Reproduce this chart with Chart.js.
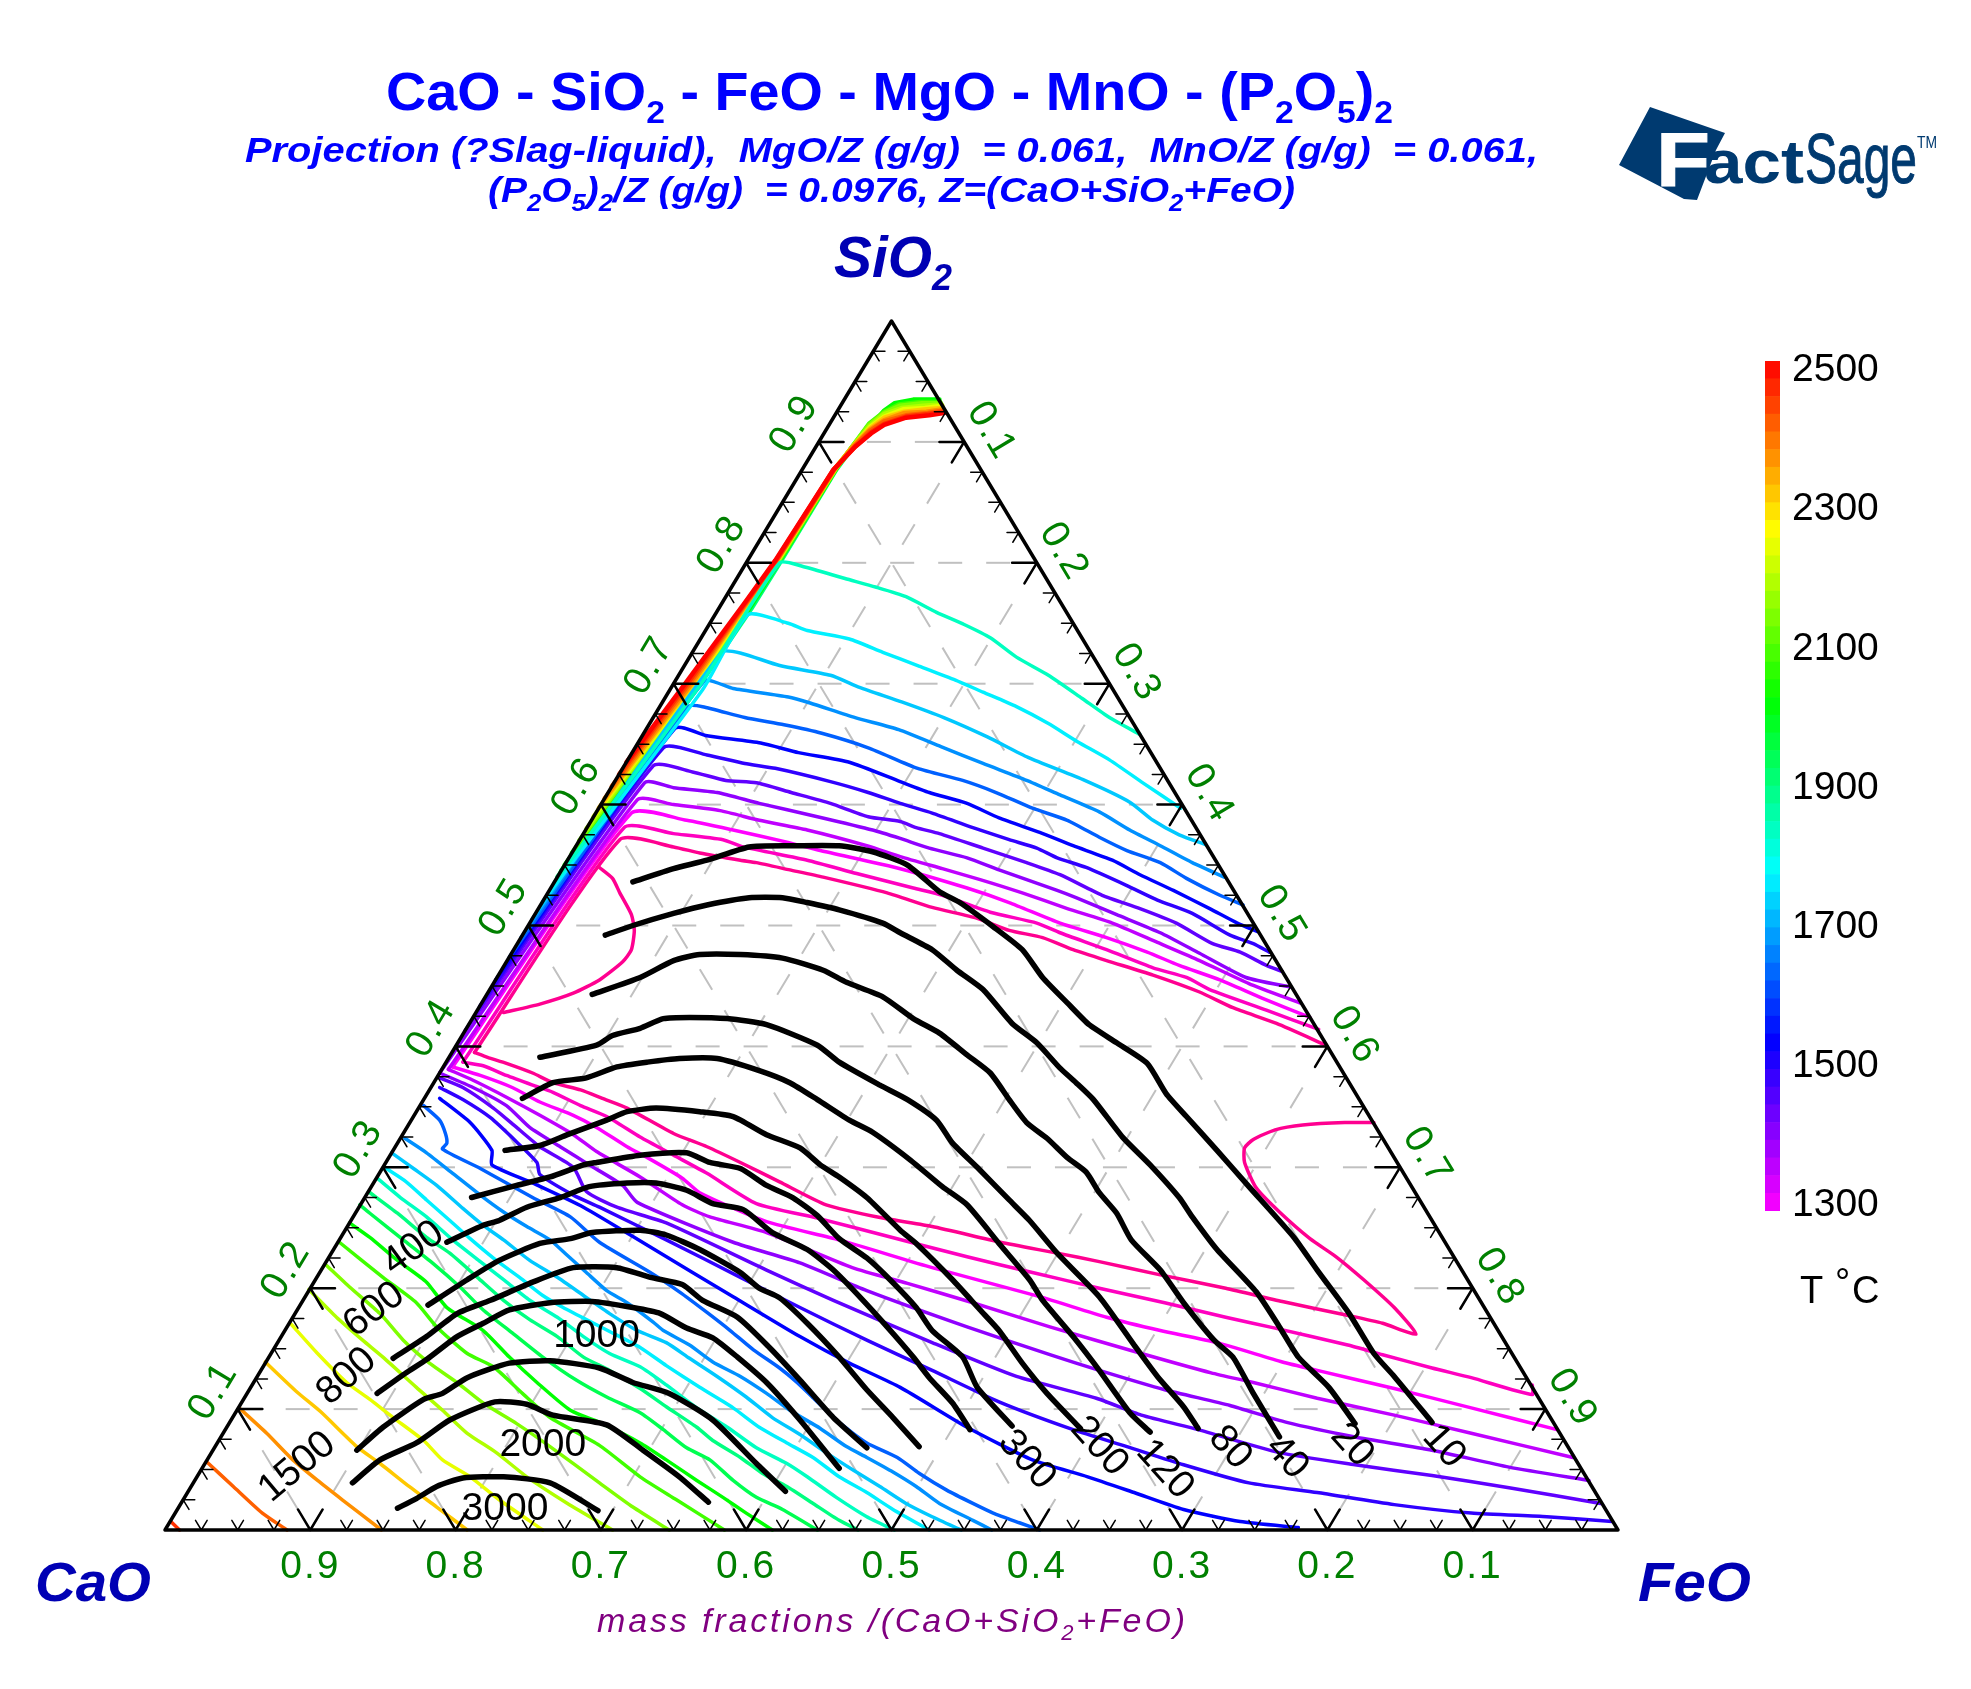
<!DOCTYPE html>
<html>
<head>
<meta charset="utf-8">
<title>CaO - SiO2 - FeO - MgO - MnO - (P2O5)2</title>
<script src="https://cdn.jsdelivr.net/npm/chart.js@4"></script>
<style>
  html, body { margin: 0; padding: 0; background: #fff; }
  #page { position: relative; width: 1971px; height: 1689px; overflow: hidden; }
  #ternary { position: absolute; left: 0; top: 0; }
  #scale { position: absolute; left: 1765px; top: 340px; }
  #texts { position: absolute; left: 0; top: 0; font-family: "Liberation Sans", Arial, sans-serif; }
</style>
</head>
<body>
<div id="page">
  <canvas id="ternary" width="1971" height="1689"></canvas>
  <canvas id="scale" width="206" height="900"></canvas>
  <svg id="texts" width="1971" height="1689" xmlns="http://www.w3.org/2000/svg">
    <text x="386" y="110" font-size="53" font-weight="bold" fill="#0000ff" textLength="1007" lengthAdjust="spacingAndGlyphs">CaO - SiO<tspan dy="13" font-size="32">2</tspan><tspan dy="-13"> - FeO - MgO - MnO - (P</tspan><tspan dy="13" font-size="32">2</tspan><tspan dy="-13">O</tspan><tspan dy="13" font-size="32">5</tspan><tspan dy="-13">)</tspan><tspan dy="13" font-size="32">2</tspan></text>
    <text x="245" y="162" font-size="35" font-weight="bold" font-style="italic" fill="#0000ff" textLength="1293" lengthAdjust="spacingAndGlyphs">Projection (?Slag-liquid),&#160; MgO/Z (g/g)&#160; = 0.061,&#160; MnO/Z (g/g)&#160; = 0.061,</text>
    <text x="488" y="202" font-size="35" font-weight="bold" font-style="italic" fill="#0000ff" textLength="807" lengthAdjust="spacingAndGlyphs">(P<tspan dy="9" font-size="23">2</tspan><tspan dy="-9">O</tspan><tspan dy="9" font-size="23">5</tspan><tspan dy="-9">)</tspan><tspan dy="9" font-size="23">2</tspan><tspan dy="-9">/Z (g/g)&#160; = 0.0976, Z=(CaO+SiO</tspan><tspan dy="9" font-size="23">2</tspan><tspan dy="-9">+FeO)</tspan></text>
    <text x="834" y="277" font-size="57" font-weight="bold" font-style="italic" fill="#0000b4" textLength="118" lengthAdjust="spacingAndGlyphs">SiO<tspan dy="13" font-size="36">2</tspan></text>
    <text x="35" y="1601" font-size="56" font-weight="bold" font-style="italic" fill="#0000b4" textLength="116" lengthAdjust="spacingAndGlyphs">CaO</text>
    <text x="1638" y="1601" font-size="56" font-weight="bold" font-style="italic" fill="#0000b4" textLength="113" lengthAdjust="spacingAndGlyphs">FeO</text>
    <text x="597" y="1632" font-size="34" font-style="italic" fill="#800080" textLength="588" lengthAdjust="spacing">mass fractions /(CaO+SiO<tspan dy="8" font-size="22">2</tspan><tspan dy="-8">+FeO)</tspan></text>
    <text y="1303" font-size="38" fill="#000"><tspan x="1800">T</tspan><tspan x="1835" dy="-8">°</tspan><tspan x="1852" dy="8">C</tspan></text>
    <!-- logo -->
    <polygon points="1650,107 1725,133 1716,150 1697,200 1684,199 1619,165" fill="#003a70"/>
    <text x="1656" y="186" font-size="76" font-weight="bold" fill="#fff" stroke="#fff" stroke-width="1" textLength="54" lengthAdjust="spacingAndGlyphs">F</text>
    <text x="1704" y="183" font-size="62" font-weight="bold" fill="#003a70" textLength="100" lengthAdjust="spacingAndGlyphs">act</text>
    <text x="1805" y="183" font-size="71" fill="#003a70" stroke="#003a70" stroke-width="1" textLength="112" lengthAdjust="spacingAndGlyphs">Sage</text>
    <text x="1917" y="148" font-size="17" fill="#003a70" textLength="20" lengthAdjust="spacingAndGlyphs">TM</text>
  </svg>
</div>
<script>
// every point is [x, SiO2] where x = FeO + SiO2/2 (position along the CaO-FeO base)

// isotherms, upper side of the two-liquid band, from the band out to the FeO-SiO2 edge
const up1800 = [[.2675,.535],[.369,.700],[.423,.800],[.439,.797],[.468,.787],[.489,.780],[.510,.772],[.531,.759],[.550,.749],[.568,.738],[.586,.722],[.608,.707],[.631,.688],[.650,.672],[.671,.658]];
const up1750 = [[.260,.520],[.370,.695],[.401,.757],[.429,.750],[.442,.744],[.471,.737],[.494,.726],[.518,.715],[.544,.703],[.563,.693],[.586,.681],[.608,.667],[.628,.652],[.650,.637],[.673,.618],[.699,.597]];
const up1700 = [[.2525,.505],[.383,.726],[.397,.725],[.423,.715],[.458,.707],[.478,.697],[.507,.685],[.536,.672],[.566,.656],[.594,.639],[.633,.620],[.664,.602],[.680,.587],[.698,.575],[.716,.567]];
const up1650 = [[.245,.490],[.371,.702],[.391,.696],[.429,.689],[.444,.684],[.475,.672],[.505,.662],[.534,.648],[.563,.634],[.593,.620],[.616,.608],[.643,.594],[.664,.579],[.685,.566],[.707,.552],[.729,.540]];
const up1600 = [[.237,.474],[.360,.681],[.370,.681],[.399,.672],[.426,.666],[.452,.659],[.484,.647],[.518,.630],[.549,.620],[.572,.610],[.597,.597],[.621,.587],[.643,.573],[.662,.562],[.685,.552],[.703,.539],[.726,.525],[.742,.517]];
const up1550 = [[.2275,.455],[.351,.663],[.373,.657],[.410,.651],[.436,.643],[.471,.635],[.506,.619],[.526,.610],[.552,.601],[.574,.589],[.602,.577],[.625,.566],[.652,.554],[.671,.542],[.694,.529],[.719,.514],[.738,.502],[.752,.495]];
const up1500 = [[.2165,.433],[.343,.647],[.373,.641],[.399,.634],[.420,.630],[.458,.619],[.484,.610],[.506,.601],[.528,.593],[.556,.581],[.581,.571],[.600,.564],[.614,.556],[.634,.548],[.662,.533],[.683,.521],[.707,.510],[.733,.492],[.749,.485],[.760,.478]];
const up1450 = [[.2065,.413],[.336,.632],[.363,.627],[.386,.620],[.407,.618],[.431,.610],[.458,.601],[.484,.590],[.506,.586],[.517,.581],[.533,.576],[.563,.564],[.593,.552],[.616,.542],[.645,.525],[.671,.514],[.696,.502],[.721,.485],[.740,.478],[.758,.467],[.769,.462]];
const up1400 = [[.189,.378],[.330,.618],[.350,.614],[.380,.610],[.409,.601],[.449,.590],[.487,.579],[.506,.572],[.526,.564],[.552,.556],[.574,.546],[.614,.529],[.627,.523],[.655,.509],[.685,.494],[.712,.477],[.744,.457],[.775,.449]];
const up1350 = [[.195,.381],[.325,.604],[.350,.600],[.382,.595],[.409,.587],[.442,.579],[.483,.566],[.506,.557],[.535,.547],[.561,.538],[.590,.527],[.621,.514],[.652,.502],[.683,.486],[.712,.471],[.746,.452],[.781,.436]];
const up1300 = [[.198,.383],[.321,.593],[.359,.587],[.391,.579],[.428,.569],[.451,.562],[.506,.547],[.552,.531],[.581,.519],[.616,.502],[.648,.490],[.676,.478],[.698,.467],[.726,.455],[.755,.440],[.788,.424]];
const up1250 = [[.205,.387],[.316,.581],[.350,.576],[.384,.571],[.398,.565],[.442,.554],[.476,.543],[.515,.531],[.535,.525],[.568,.511],[.600,.502],[.616,.494],[.648,.480],[.680,.465],[.703,.457],[.719,.447],[.758,.430],[.794,.414]];
const up1200 = [[.213,.395],[.313,.571],[.350,.565],[.368,.560],[.396,.554],[.407,.552],[.430,.546],[.453,.540],[.497,.527],[.528,.515],[.559,.506],[.581,.496],[.604,.490],[.625,.480],[.648,.471],[.680,.459],[.712,.445],[.735,.432],[.765,.419],[.799,.401]];
const arc1200 = [[.299,.548],[.308,.539],[.313,.527],[.321,.509],[.323,.496],[.321,.480],[.315,.470],[.299,.455],[.281,.444],[.258,.435],[.233,.428]];

// the hot isotherms: cap below the SiO2 corner, then down the CaO-SiO2 edge
const band2400 = [[.537,.924],[.526,.922],[.510,.920],[.495,.914],[.486,.907],[.475,.896],[.460,.877],[.420,.802],[.399,.767],[.358,.700],[.3175,.635]];
const band2350 = [[.5365,.925],[.525,.923],[.510,.921],[.495,.915],[.486,.908],[.475,.896],[.460,.877],[.4205,.802],[.3995,.767],[.3595,.700],[.3125,.625]];
const band2300 = [[.536,.926],[.525,.924],[.510,.922],[.495,.917],[.485,.909],[.475,.897],[.4605,.877],[.421,.802],[.400,.767],[.361,.700],[.3075,.615]];
const band2250 = [[.5355,.927],[.524,.925],[.509,.924],[.495,.918],[.485,.910],[.474,.897],[.4605,.877],[.421,.802],[.400,.766],[.3625,.700],[.3025,.605]];
const band2200 = [[.535,.928],[.524,.927],[.509,.925],[.495,.920],[.485,.911],[.474,.897],[.461,.877],[.4215,.802],[.4005,.766],[.3635,.700],[.2985,.597]];
const band2150 = [[.535,.930],[.523,.928],[.508,.927],[.495,.921],[.485,.912],[.474,.897],[.461,.878],[.422,.802],[.4005,.765],[.3645,.700],[.295,.590]];
const band2100 = [[.5345,.931],[.522,.930],[.507,.928],[.495,.923],[.485,.913],[.474,.897],[.4615,.878],[.4215,.802],[.401,.765],[.365,.700],[.290,.580]];
const band2050 = [[.534,.932],[.521,.932],[.506,.930],[.495,.924],[.4845,.914],[.4735,.897],[.4615,.878],[.4225,.802],[.4015,.765],[.3655,.700],[.285,.570]];
const band2000 = [[.5335,.933],[.520,.933],[.505,.931],[.495,.925],[.4845,.915],[.4735,.897],[.462,.878],[.423,.802],[.402,.764],[.366,.700],[.280,.560]];
const band1950 = [[.533,.935],[.515,.935],[.502,.932],[.495,.926],[.488,.916],[.473,.896],[.462,.878],[.4232,.802],[.4025,.763],[.3665,.700],[.275,.550]];
const band1900 = [[.497,.925],[.488,.916],[.473,.896],[.462,.878],[.4235,.802],[.403,.763],[.3675,.700],[.2725,.545]];
const band1850 = [[.488,.913],[.473,.895],[.462,.877],[.4237,.801],[.4035,.762],[.3685,.700],[.270,.540]];

// isotherms, lower side, from the CaO-SiO2 edge out to the FeO edge or the base
const low1200 = [[.213,.395],[.222,.391],[.235,.386],[.253,.378],[.267,.370],[.286,.364],[.301,.357],[.318,.349],[.350,.328],[.373,.317],[.396,.304],[.423,.288],[.455,.269],[.494,.258],[.528,.251],[.575,.238],[.614,.229],[.643,.222],[.685,.211],[.730,.200],[.769,.189],[.812,.178],[.838,.171],[.861,.162],[.846,.184],[.825,.207],[.806,.226],[.788,.241],[.767,.263],[.751,.283],[.743,.304],[.743,.316],[.749,.323],[.764,.331],[.783,.335],[.812,.337],[.832,.337]];
const low1250 = [[.205,.387],[.219,.384],[.235,.376],[.253,.368],[.267,.362],[.286,.351],[.304,.342],[.327,.325],[.350,.310],[.373,.295],[.407,.270],[.449,.258],[.494,.244],[.552,.226],[.597,.213],[.643,.200],[.688,.188],[.730,.176],[.764,.167],[.814,.153],[.838,.145],[.872,.134],[.899,.126],[.941,.112],[.941,.120]];
const low1300 = [[.198,.383],[.217,.376],[.239,.366],[.258,.354],[.281,.343],[.297,.333],[.318,.317],[.332,.308],[.356,.291],[.368,.279],[.414,.255],[.464,.240],[.528,.217],[.602,.193],[.648,.176],[.685,.165],[.724,.155],[.769,.139],[.793,.132],[.846,.117],[.899,.101],[.958,.083]];
const low1350 = [[.195,.381],[.212,.372],[.235,.358],[.258,.343],[.281,.327],[.297,.313],[.327,.292],[.356,.269],[.375,.259],[.414,.246],[.473,.217],[.511,.204],[.556,.188],[.609,.168],[.672,.146],[.720,.130],[.749,.122],[.793,.109],[.846,.095],[.899,.080],[.969,.060]];
const low1400 = [[.189,.378],[.212,.366],[.235,.351],[.251,.333],[.272,.317],[.292,.302],[.315,.285],[.325,.271],[.391,.238],[.437,.221],[.483,.198],[.552,.168],[.609,.145],[.643,.132],[.688,.116],[.733,.103],[.772,.089],[.819,.077],[.872,.066],[.925,.052],[.980,.041]];
const low1450 = [[.189,.374],[.205,.366],[.226,.349],[.242,.333],[.258,.317],[.281,.300],[.290,.280],[.311,.267],[.345,.254],[.414,.215],[.460,.190],[.528,.155],[.586,.127],[.641,.109],[.672,.095],[.711,.083],[.767,.064],[.819,.054],[.872,.045],[.925,.035],[.988,.022]];
const low1500 = [[.189,.366],[.205,.356],[.224,.341],[.242,.321],[.256,.304],[.258,.294],[.281,.277],[.299,.267],[.345,.240],[.396,.209],[.437,.184],[.483,.157],[.528,.132],[.574,.106],[.625,.083],[.662,.069],[.701,.054],[.746,.039],[.793,.031],[.846,.021],[.899,.014],[.951,.011],[.996,.007]];
const low1550 = [[.189,.357],[.210,.337],[.225,.314],[.225,.302],[.253,.287],[.288,.267],[.334,.234],[.391,.193],[.437,.160],[.471,.138],[.506,.118],[.552,.085],[.597,.058],[.635,.044],[.667,.031],[.701,.017],[.740,.007],[.780,.002]];
const low1600 = [[.178,.351],[.189,.339],[.193,.328],[.194,.320],[.191,.315],[.217,.299],[.253,.275],[.279,.259],[.299,.238],[.334,.213],[.354,.197],[.373,.180],[.389,.165],[.405,.149],[.423,.134],[.435,.122],[.464,.089],[.483,.072],[.504,.060],[.519,.047],[.538,.033],[.556,.022],[.570,.014],[.588,.006],[.602,.000]];
const low1650 = [[.165,.324],[.180,.312],[.198,.295],[.217,.277],[.233,.263],[.249,.251],[.265,.240],[.277,.227],[.290,.213],[.304,.198],[.318,.188],[.336,.172],[.343,.165],[.361,.153],[.377,.139],[.396,.127],[.414,.113],[.430,.099],[.451,.084],[.469,.069],[.483,.060],[.501,.048],[.517,.036],[.533,.022],[.556,.008],[.569,.000]];
const low1700 = [[.156,.312],[.171,.299],[.187,.285],[.205,.266],[.219,.252],[.233,.240],[.251,.223],[.270,.209],[.288,.194],[.306,.179],[.325,.165],[.345,.155],[.361,.142],[.380,.127],[.400,.110],[.418,.093],[.437,.079],[.455,.064],[.473,.050],[.492,.036],[.510,.022],[.528,.011],[.548,.000]];
const low1750 = [[.151,.300],[.166,.288],[.180,.273],[.196,.256],[.210,.241],[.228,.223],[.244,.209],[.260,.194],[.274,.184],[.290,.174],[.308,.163],[.327,.151],[.345,.136],[.368,.118],[.391,.101],[.409,.085],[.428,.072],[.446,.060],[.464,.044],[.483,.031],[.501,.017],[.526,.000]];
const low1800 = [[.146,.291],[.162,.275],[.180,.259],[.198,.240],[.217,.222],[.233,.207],[.251,.190],[.270,.176],[.288,.160],[.306,.146],[.327,.135],[.345,.120],[.366,.101],[.387,.085],[.407,.068],[.428,.055],[.442,.044],[.462,.027],[.483,.011],[.502,.000]];
const low1850 = [[.140,.280],[.160,.262],[.180,.242],[.196,.229],[.215,.209],[.233,.190],[.251,.174],[.270,.160],[.288,.143],[.306,.132],[.327,.117],[.345,.102],[.366,.085],[.377,.074],[.396,.060],[.411,.047],[.428,.036],[.446,.022],[.464,.008],[.477,.000]];
const low1900 = [[.134,.269],[.141,.262],[.164,.240],[.184,.221],[.203,.201],[.219,.182],[.239,.163],[.260,.143],[.283,.124],[.304,.110],[.327,.097],[.343,.083],[.359,.068],[.375,.058],[.391,.041],[.407,.027],[.425,.017],[.449,.000]];
const low1950 = [[.127,.254],[.141,.242],[.160,.223],[.180,.205],[.194,.184],[.219,.165],[.237,.143],[.256,.122],[.279,.099],[.301,.088],[.327,.072],[.345,.058],[.366,.041],[.384,.027],[.400,.014],[.418,.000]];
const low2000 = [[.120,.238],[.150,.209],[.173,.188],[.187,.168],[.208,.146],[.226,.135],[.246,.113],[.265,.093],[.299,.070],[.327,.044],[.352,.025],[.385,.000]];
const low2050 = [[.111,.219],[.127,.201],[.148,.179],[.164,.157],[.182,.138],[.201,.122],[.219,.105],[.242,.088],[.265,.069],[.299,.039],[.322,.019],[.347,.000]];
const low2100 = [[.099,.199],[.118,.176],[.136,.157],[.150,.143],[.173,.118],[.191,.099],[.208,.080],[.228,.064],[.249,.044],[.277,.022],[.308,.000]];
const low2150 = [[.087,.170],[.105,.146],[.125,.122],[.141,.108],[.157,.093],[.178,.074],[.191,.058],[.210,.044],[.230,.025],[.260,.000]];
const low2200 = [[.069,.139],[.091,.114],[.107,.098],[.132,.069],[.148,.055],[.168,.036],[.187,.019],[.208,.000]];
const low2250 = [[.051,.101],[.070,.080],[.088,.058],[.105,.041],[.122,.025],[.149,.000]];
const low2300 = [[.029,.056],[.047,.036],[.067,.014],[.084,.000]];
const low2350 = [[.004,.007],[.010,.000]];

// iso-viscosity lines (black)
const visc10 = [[.322,.536],[.350,.547],[.373,.554],[.402,.565],[.430,.566],[.464,.566],[.487,.561],[.511,.550],[.533,.528],[.547,.519],[.570,.499],[.590,.480],[.604,.457],[.621,.436],[.636,.418],[.655,.403],[.676,.386],[.689,.361],[.703,.342],[.724,.314],[.746,.284],[.777,.242],[.793,.215],[.815,.179],[.832,.146],[.846,.127],[.872,.089]];
const visc20 = [[.303,.492],[.322,.500],[.350,.510],[.373,.517],[.402,.523],[.425,.523],[.442,.519],[.464,.513],[.494,.502],[.506,.494],[.528,.480],[.545,.463],[.563,.447],[.583,.419],[.600,.403],[.616,.382],[.627,.370],[.639,.356],[.659,.325],[.678,.302],[.698,.275],[.707,.259],[.724,.232],[.751,.197],[.767,.168],[.780,.143],[.801,.118],[.819,.088]];
const visc40 = [[.294,.443],[.327,.457],[.350,.471],[.368,.476],[.396,.476],[.425,.473],[.453,.463],[.469,.453],[.494,.441],[.515,.423],[.533,.411],[.552,.393],[.568,.378],[.581,.356],[.593,.337],[.607,.324],[.621,.308],[.634,.296],[.643,.279],[.655,.262],[.665,.240],[.685,.215],[.701,.188],[.722,.157],[.735,.143],[.749,.113],[.767,.077]];
const visc80 = [[.258,.391],[.297,.401],[.308,.409],[.327,.415],[.343,.423],[.361,.424],[.387,.423],[.414,.418],[.449,.401],[.464,.387],[.492,.368],[.511,.356],[.531,.339],[.542,.320],[.559,.300],[.581,.273],[.595,.256],[.614,.229],[.643,.193],[.667,.153],[.683,.127],[.701,.102],[.711,.084]];
const visc120 = [[.246,.357],[.267,.370],[.290,.374],[.311,.383],[.332,.387],[.354,.390],[.380,.390],[.409,.380],[.430,.370],[.449,.356],[.471,.339],[.487,.329],[.513,.306],[.535,.284],[.552,.269],[.574,.237],[.595,.207],[.604,.190],[.625,.160],[.643,.132],[.664,.097],[.678,.081]];
const visc200 = [[.234,.314],[.258,.318],[.277,.327],[.304,.339],[.318,.346],[.338,.349],[.368,.346],[.391,.342],[.414,.327],[.437,.316],[.451,.302],[.464,.292],[.483,.275],[.506,.248],[.517,.237],[.542,.207],[.561,.182],[.574,.165],[.590,.138],[.607,.113],[.630,.084]];
const visc300 = [[.211,.275],[.242,.285],[.265,.292],[.288,.302],[.297,.304],[.327,.310],[.359,.312],[.375,.304],[.396,.299],[.414,.285],[.432,.275],[.449,.260],[.464,.241],[.483,.225],[.499,.207],[.517,.184],[.528,.165],[.549,.143],[.559,.118],[.583,.086]];
const visc400 = [[.194,.238],[.219,.252],[.230,.256],[.249,.267],[.272,.275],[.292,.284],[.318,.287],[.338,.287],[.359,.281],[.377,.270],[.398,.265],[.418,.246],[.442,.232],[.460,.215],[.478,.193],[.497,.168],[.515,.143],[.526,.126],[.542,.105],[.554,.083]];
const visc600 = [[.181,.186],[.208,.207],[.230,.223],[.258,.237],[.279,.241],[.294,.246],[.327,.248],[.345,.244],[.368,.232],[.396,.213],[.409,.200],[.423,.192],[.442,.171],[.464,.143],[.483,.116],[.501,.093],[.519,.069]];
const visc800 = [[.157,.142],[.180,.160],[.201,.179],[.224,.190],[.253,.205],[.281,.217],[.311,.217],[.334,.209],[.356,.203],[.370,.190],[.394,.176],[.416,.151],[.437,.124],[.460,.093],[.483,.068]];
const visc1000 = [[.146,.113],[.166,.130],[.180,.141],[.201,.160],[.219,.171],[.237,.182],[.265,.188],[.294,.189],[.322,.184],[.341,.179],[.359,.167],[.377,.159],[.394,.143],[.414,.122],[.437,.091],[.464,.051]];
const visc1500 = [[.132,.066],[.150,.085],[.178,.108],[.191,.113],[.208,.126],[.237,.138],[.265,.140],[.299,.134],[.322,.122],[.347,.113],[.377,.091],[.407,.055],[.427,.032]];
const visc2000 = [[.129,.039],[.148,.058],[.173,.072],[.196,.091],[.227,.106],[.249,.104],[.267,.095],[.304,.087],[.329,.066],[.354,.044],[.374,.023]];
const visc3000 = [[.160,.018],[.173,.026],[.187,.036],[.205,.043],[.233,.044],[.265,.039],[.298,.016]];

const viscLabels = ['400','600','800','1500','1000','2000','3000','300','200','120','80','40','20','10'];
const viscLabelX = [.171,.144,.125,.091,.297,.260,.234,.593,.643,.688,.733,.772,.817,.880];
const viscLabelY = [.233,.182,.127,.052,.160,.070,.017,.058,.069,.050,.068,.060,.070,.069];
const viscLabelAngle = [-36,-37,-42,-40,0,0,0,48,48,48,48,48,48,48];

const gridValues = [.1,.2,.3,.4,.5,.6,.7,.8,.9];
const minorTicks = [.025,.05,.075,.125,.15,.175,.225,.25,.275,.325,.35,.375,.425,.45,.475,.525,.55,.575,.625,.65,.675,.725,.75,.775,.825,.85,.875,.925,.95,.975];
const scaleTicks = [1300,1500,1700,1900,2100,2300,2500];

function pt(feo, sio2) { return { x: feo + sio2 / 2, y: sio2 }; }

function lineSet(points, color, width, order, dash, tension) {
  return {
    data: points,
    borderColor: color,
    borderWidth: width,
    borderDash: dash || [],
    borderJoinStyle: 'round',
    borderCapStyle: dash ? 'butt' : 'round',
    pointRadius: 0,
    showLine: true,
    fill: false,
    tension: tension || 0,
    order: order
  };
}

const pairs = a => a.map(p => ({ x: p[0], y: p[1] }));
const datasets = [];

// dashed grid
gridValues.forEach(v => {
  datasets.push(lineSet([pt(0, v), pt(1 - v, v)], '#c0c0c0', 2, 9, [24, 24]));
  datasets.push(lineSet([pt(v, 1 - v), pt(v, 0)], '#c0c0c0', 2, 9, [24, 24]));
  datasets.push(lineSet([pt(0, 1 - v), pt(1 - v, 0)], '#c0c0c0', 2, 9, [24, 24]));
});

// ticks on the three edges, two short arms pointing inwards
function tickArms(list, t) {
  const out = [];
  const gap = { x: NaN, y: NaN };
  list.forEach(v => {
    out.push(pt(0, v), pt(t, v), gap, pt(0, v), pt(t, v - t), gap);
    out.push(pt(1 - v, v), pt(1 - v - t, v), gap, pt(1 - v, v), pt(1 - v, v - t), gap);
    out.push(pt(v, 0), pt(v, t), gap, pt(v, 0), pt(v - t, t), gap);
  });
  return out;
}
datasets.push(lineSet(tickArms(minorTicks, .008), '#000', 1.5, 2));
datasets.push(lineSet(tickArms(gridValues, .017), '#000', 2.5, 2));

const coloured = [
  [up1800,'#00ffc0'],[up1750,'#00f0ff'],[up1700,'#00c8ff'],[up1650,'#0090ff'],[up1600,'#0060ff'],[up1550,'#0000ff'],[up1500,'#3000ff'],
  [up1450,'#6000ff'],[up1400,'#9000ff'],[up1350,'#c000ff'],[up1300,'#ff00ff'],[up1250,'#ff00c0'],[up1200,'#ff0090'],[arc1200,'#ff0090'],
  [low1200,'#ff0090'],[low1250,'#ff00c0'],[low1300,'#ff00ff'],[low1350,'#c000ff'],[low1400,'#9000ff'],[low1450,'#6000ff'],[low1500,'#3000ff'],
  [low1550,'#0000ff'],[low1600,'#0060ff'],[low1650,'#0090ff'],[low1700,'#00c8ff'],[low1750,'#00f0ff'],[low1800,'#00ffc0'],[low1850,'#00ff80'],
  [low1900,'#00ff50'],[low1950,'#00ff00'],[low2000,'#40ff00'],[low2050,'#80ff00'],[low2100,'#b0ff00'],[low2150,'#e8ff00'],[low2200,'#ffc800'],
  [low2250,'#ff9000'],[low2300,'#ff6000'],[low2350,'#ff3000']
];
coloured.forEach(c => datasets.push(lineSet(pairs(c[0]), c[1], 3.5, 5, null, .2)));

// the band is solid colour in the picture, so these lines are wider
const bandLines = [
  [band2400,'#ff0000'],[band2350,'#ff3000'],[band2300,'#ff6000'],[band2250,'#ff9000'],[band2200,'#ffc800'],[band2150,'#e8ff00'],
  [band2100,'#b0ff00'],[band2050,'#80ff00'],[band2000,'#40ff00'],[band1950,'#00ff00'],[band1900,'#00ff50'],[band1850,'#00ff80']
];
bandLines.forEach(c => datasets.push(lineSet(pairs(c[0]), c[1], 4.5, 5)));

[visc10,visc20,visc40,visc80,visc120,visc200,visc300,visc400,visc600,visc800,visc1000,visc1500,visc2000,visc3000]
  .forEach(v => datasets.push(lineSet(pairs(v), '#000', 5.5, 3, null, .2)));

// triangle frame
datasets.push(lineSet([pt(0, 0), pt(1, 0), pt(0, 1), pt(0, 0)], '#000', 3.5, 1));

const textPlugin = {
  id: 'ternaryText',
  afterDatasetsDraw(chart) {
    const ctx = chart.ctx, sx = chart.scales.x, sy = chart.scales.y;
    function put(text, x, y, angle) {
      ctx.save();
      ctx.translate(x, y);
      ctx.rotate(angle * Math.PI / 180);
      ctx.textAlign = 'center';
      ctx.textBaseline = 'middle';
      ctx.fillText(text, 0, 0);
      ctx.restore();
    }
    ctx.save();
    ctx.fillStyle = '#008000';
    ctx.font = '39px "Liberation Sans", Arial, sans-serif';
    ctx.letterSpacing = '2px';
    gridValues.forEach(v => {
      put(v.toFixed(1), sx.getPixelForValue(v / 2) - 24, sy.getPixelForValue(v) - 18, -59);
      put((1 - v).toFixed(1), sx.getPixelForValue(1 - v / 2) + 27, sy.getPixelForValue(v) - 11, 59);
      put(v.toFixed(1), sx.getPixelForValue(1 - v), sy.getPixelForValue(0) + 37, 0);
    });
    ctx.fillStyle = '#000';
    ctx.letterSpacing = '0px';
    viscLabels.forEach((t, i) => {
      put(t, sx.getPixelForValue(viscLabelX[i]), sy.getPixelForValue(viscLabelY[i]), viscLabelAngle[i]);
    });
    ctx.restore();
  }
};

new Chart(document.getElementById('ternary'), {
  type: 'scatter',
  data: { datasets: datasets },
  options: {
    responsive: false,
    animation: false,
    events: [],
    layout: { padding: 0 },
    plugins: { legend: { display: false }, tooltip: { enabled: false } },
    scales: {
      // 1 unit of x is the 1453 px base, 1 unit of y the 1209 px height
      x: { type: 'linear', display: false, min: -0.11356, max: 1.24295 },
      y: { type: 'linear', display: false, min: -0.13151, max: 1.26551 }
    }
  },
  plugins: [textPlugin]
});

// colour bar: 48 bands of 25 degrees
const bandLows = Array.from({ length: 48 }, (_, i) => 1300 + i * 25);
new Chart(document.getElementById('scale'), {
  type: 'bar',
  data: {
    labels: ['T'],
    datasets: bandLows.map(t => ({
      data: [[t, t + 25]],
      backgroundColor: 'hsl(' + (300 * (2500 - t - 12.5) / 1200) + ',100%,50%)',
      grouped: false,
      barPercentage: 1,
      categoryPercentage: 1
    }))
  },
  options: {
    responsive: false,
    animation: false,
    events: [],
    layout: { padding: { top: 21, bottom: 29, left: 0, right: 0 } },
    plugins: { legend: { display: false }, tooltip: { enabled: false } },
    scales: {
      x: { display: false },
      y: { display: false, min: 1300, max: 2500 },
      yTicks: {
        position: 'right',
        min: 1292.1,
        max: 2513.5,
        grid: { display: false, drawTicks: false },
        border: { display: false },
        afterBuildTicks: s => { s.ticks = scaleTicks.map(v => ({ value: v })); },
        afterFit: s => { s.width = 191; s.paddingTop = 0; s.paddingBottom = 0; },
        ticks: {
          color: '#000',
          padding: 12,
          callback: v => String(v),
          font: { size: 39, family: '"Liberation Sans", Arial, sans-serif' }
        }
      }
    }
  }
});
</script>
</body>
</html>
